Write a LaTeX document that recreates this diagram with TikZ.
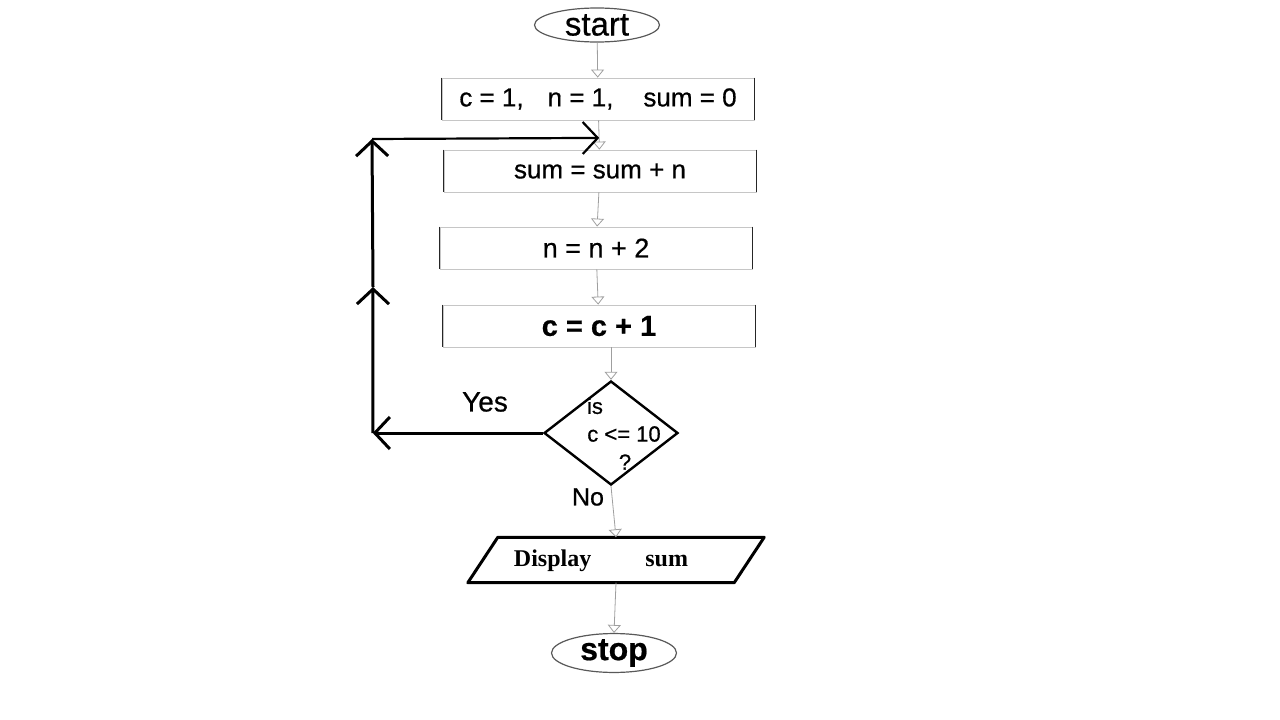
\documentclass[tikz,border=0pt]{standalone}
\usepackage{fontspec}
\setmainfont[FakeBold=0.6]{Liberation Sans}
\newfontfamily\dispfont{Liberation Serif}
\usetikzlibrary{shapes.geometric,arrows.meta}
\newcommand{\fsz}[1]{\fontsize{#1pt}{#1pt}\selectfont}
\tikzset{
  term/.style={ellipse,draw=gray!70!black,line width=1.2pt,minimum width=125pt,minimum height=34pt,inner sep=0pt},
  proc/.style={rectangle,draw=gray!45,line width=0.8pt,minimum width=312pt,minimum height=42pt,inner sep=0pt},
  boxside/.style={gray!30!black,line width=1.6pt},
  decide/.style={diamond,draw,line width=2.4pt,minimum width=134pt,minimum height=104pt,inner sep=0pt},
  iobox/.style={rectangle,minimum width=266pt,minimum height=45pt,inner sep=0pt},
  flow/.style={gray!75,line width=0.8pt,-{Triangle[open,length=8pt,width=13pt]}},
  loopline/.style={black,line width=3pt,-{Straight Barb[length=15pt,width=32pt]}}
}
\begin{document}
\begin{tikzpicture}[x=1pt,y=-1pt]
   \useasboundingbox (0,0) rectangle (1280,720);
   \node[term,font=\fsz{33}] (start) at (597,25) {start};
   \node[proc,font=\fsz{26}] (init) at (598,99) {c = 1,\hspace{24pt}n = 1,\hspace{30pt}sum = 0};
   \node[proc,font=\fsz{26}] (add) at (600,171) {sum = sum + n};
   \node[proc,font=\fsz{27}] (incn) at (596,248) {n = n + 2};
   \node[proc,font=\fsz{29}\bfseries] (incc) at (599,326) {c = c + 1};
   \foreach \b in {init,add,incn,incc} {
    \draw[boxside] (\b.north west) -- (\b.south west);
    \draw[boxside] (\b.north east) -- (\b.south east);
   }
   \node[decide] (test) at (611,433) {};
   \node[font=\fsz{22}] (q1) at (595,406) {is};
   \node[font=\fsz{22}] (q2) at (624,434) {c <= 10};
   \node[font=\fsz{22}] (q3) at (625,462) {?};
   \node[font=\fsz{28}] (yes) at (485,402) {Yes};
   \node[font=\fsz{25}] (no) at (588,497) {No};
   \node[iobox] (disp) at (616,560) {};
   \draw[line width=3pt,line join=round] ([xshift=15pt]disp.north west) -- ([xshift=15pt]disp.north east)
    -- ([xshift=-15pt]disp.south east) -- ([xshift=-15pt]disp.south west) -- cycle;
   \node[font=\dispfont\bfseries\fsz{24}] (dtext) at (601,561) {Display\hspace{54pt}sum};
   \node[term,font=\fsz{32}\bfseries] (stop) at (614,653) {stop};

   \path (init.south) -- coordinate[pos=0.6] (j) (add.north);
   \draw[flow] (start) -- (init);
   \draw[flow] (init) -- (add);
   \draw[flow] (add) -- (incn);
   \draw[flow] (incn) -- (incc);
   \draw[flow] (incc.south -| test.north) -- (test.north);
   \draw[flow] (test.south) -- (disp.north);
   \draw[flow] (disp.south) -- (stop.north);

   \coordinate (c1) at ([xshift=-170pt]test.west);
   \coordinate (cm) at (373,287);
   \coordinate (c2) at (372,139);
   \draw[loopline] (test.west) -- (c1);
   \draw[loopline] (c1) -- (cm);
   \draw[loopline] (cm) -- (c2);
   \draw[loopline,line width=2.2pt] (c2) -- (j);
\end{tikzpicture}
\end{document}
